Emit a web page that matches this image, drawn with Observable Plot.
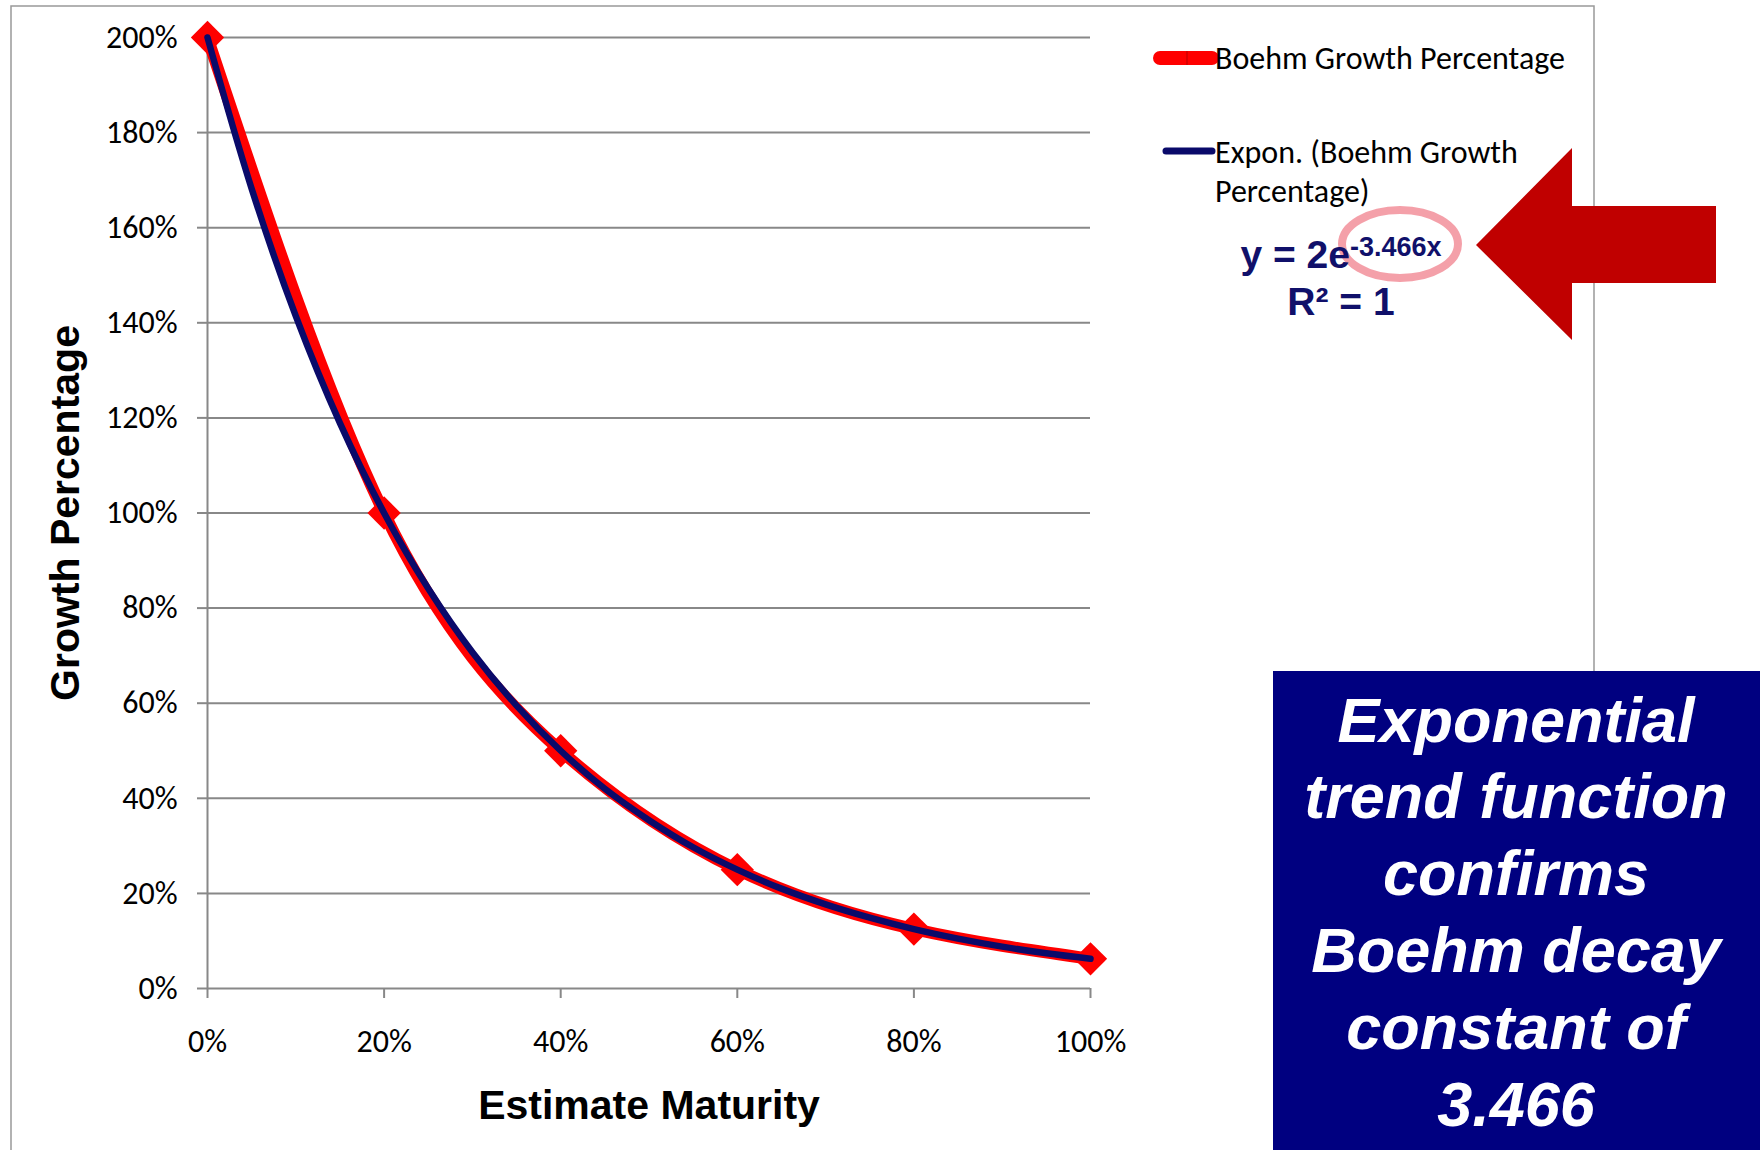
<!DOCTYPE html>
<html>
<head>
<meta charset="utf-8">
<script src="https://cdn.jsdelivr.net/npm/d3@7"></script>
<script src="https://cdn.jsdelivr.net/npm/@observablehq/plot@0.6"></script>
<style>
  html, body { margin: 0; padding: 0; background: white; }
  #chart { width: 1760px; height: 1150px; overflow: hidden; }
</style>
</head>
<body>
<div id="chart"></div>
<script>
// ---- data ----
const maturity = [0, 0.2, 0.4, 0.6, 0.8, 1.0];
const growthPct = [2.0, 1.0, 0.5, 0.25, 0.125, 0.0625];

// exponential trend curve
const trendX = [0, 0.05, 0.1, 0.15, 0.2, 0.25, 0.3, 0.35, 0.4, 0.45, 0.5,
                0.55, 0.6, 0.65, 0.7, 0.75, 0.8, 0.85, 0.9, 0.95, 1.0];
const trendY = [2.0, 1.682, 1.414, 1.189, 1.0, 0.841, 0.707, 0.595, 0.5, 0.42, 0.354,
                0.297, 0.25, 0.21, 0.177, 0.149, 0.125, 0.105, 0.088, 0.074, 0.0625];

const yTicks = [0, 0.2, 0.4, 0.6, 0.8, 1.0, 1.2, 1.4, 1.6, 1.8, 2.0];
const xTicks = [0, 0.2, 0.4, 0.6, 0.8, 1.0];

const legendLabels = ["Boehm Growth Percentage", "Expon. (Boehm Growth", "Percentage)"];
const equationMain = "y = 2e";
const equationSup = "-3.466x";
const equationR2 = "R² = 1";
const boxLines = ["Exponential", "trend function", "confirms", "Boehm decay", "constant of", "3.466"];
const xTitle = "Estimate Maturity";
const yTitle = "Growth Percentage";

const points = maturity.map((x, i) => ({x, y: growthPct[i]}));
const trend = trendX.map((x, i) => ({x, y: trendY[i]}));

const gridColor = "#888888";
const red = "#FF0000";
const navy = "#0A0A6A";
const pct = d3.format(".0%");

const svg = Plot.plot({
  width: 1760,
  height: 1150,
  marginLeft: 207,
  marginRight: 670,
  marginTop: 37,
  marginBottom: 162,
  x: {domain: [0, 1]},
  y: {domain: [0, 2]},
  style: {fontFamily: "Carlito, Lato, sans-serif", color: "black", background: "white", overflow: "visible"},
  marks: [
    Plot.ruleY(yTicks, {stroke: gridColor, strokeWidth: 2}),
    Plot.ruleX([0], {stroke: gridColor, strokeWidth: 2}),
    Plot.axisY({ticks: yTicks, tickSize: 10, tickFormat: () => "", stroke: gridColor, strokeWidth: 2, label: null}),
    Plot.axisX({ticks: xTicks, tickSize: 10, tickFormat: () => "", stroke: gridColor, strokeWidth: 2, label: null}),
    Plot.axisY({ticks: yTicks, tickSize: 0, tickPadding: 30, tickFormat: pct, fill: "black", fontSize: 32, label: null}),
    Plot.axisX({ticks: xTicks, tickSize: 0, tickPadding: 41, tickFormat: pct, fill: "black", fontSize: 32, label: null}),
    Plot.line(points, {x: "x", y: "y", stroke: red, strokeWidth: 12, curve: "natural"}),
    Plot.dot(points, {x: "x", y: "y", symbol: "diamond2", r: 15, fill: red}),
    Plot.line(trend, {x: "x", y: "y", stroke: navy, strokeWidth: 6.5, curve: "catmull-rom"}),
    Plot.text([yTitle], {frameAnchor: "left", dx: -142, rotate: -90, textAnchor: "middle", fontSize: 41, fontWeight: "bold",
      fontFamily: "Liberation Sans, Arial, sans-serif", fill: "black"}),
    Plot.text([xTitle], {frameAnchor: "bottom", dy: 130, textAnchor: "middle", fontSize: 41, fontWeight: "bold",
      fontFamily: "Liberation Sans, Arial, sans-serif", fill: "black"})
  ]
});

const s = d3.select(svg);

// chart border (behind everything)
s.insert("rect", ":first-child")
  .attr("x", 11).attr("y", 6).attr("width", 1583).attr("height", 1300)
  .attr("fill", "none").attr("stroke", "#999999").attr("stroke-width", 1.5);
s.insert("rect", ":first-child")
  .attr("x", 0).attr("y", 0).attr("width", 1760).attr("height", 1150).attr("fill", "white");

// legend
const lg = s.append("g").attr("font-family", "Carlito, Lato, sans-serif").attr("font-size", 32)
  .attr("fill", "black").attr("text-anchor", "start");
lg.append("line").attr("x1", 1160).attr("x2", 1212).attr("y1", 58).attr("y2", 58)
  .attr("stroke", red).attr("stroke-width", 14).attr("stroke-linecap", "round");
lg.append("line").attr("x1", 1187).attr("x2", 1187).attr("y1", 51).attr("y2", 65)
  .attr("stroke", "#d00000").attr("stroke-width", 1.5);
lg.append("text").attr("x", 1215).attr("y", 69).text(legendLabels[0]);
lg.append("line").attr("x1", 1166).attr("x2", 1212).attr("y1", 151).attr("y2", 151)
  .attr("stroke", navy).attr("stroke-width", 7).attr("stroke-linecap", "round");
lg.append("text").attr("x", 1215).attr("y", 163).text(legendLabels[1]);
lg.append("text").attr("x", 1215).attr("y", 202).text(legendLabels[2]);

// highlight ellipse
s.append("ellipse").attr("cx", 1400).attr("cy", 244).attr("rx", 58).attr("ry", 34)
  .attr("fill", "none").attr("stroke", "#F0808C").attr("stroke-opacity", 0.75).attr("stroke-width", 8);

// equation
const eq = s.append("g").attr("font-family", "Liberation Sans, Arial, sans-serif")
  .attr("font-weight", "bold").attr("fill", "#10106A").attr("text-anchor", "middle");
const t1 = eq.append("text").attr("x", 1341).attr("y", 268).attr("font-size", 39);
t1.append("tspan").text(equationMain);
t1.append("tspan").attr("dy", -12).attr("font-size", 27).text(equationSup);
eq.append("text").attr("x", 1341).attr("y", 315).attr("font-size", 39).text(equationR2);

// arrow
s.append("path")
  .attr("d", "M1476,245 L1572,148 L1572,206 L1716,206 L1716,283 L1572,283 L1572,340 Z")
  .attr("fill", "#C00000");

// note box
s.append("rect").attr("x", 1273).attr("y", 671).attr("width", 487).attr("height", 479).attr("fill", "#000080");
const bt = s.append("g").attr("font-family", "Liberation Sans, Arial, sans-serif")
  .attr("font-weight", "bold").attr("font-style", "italic").attr("font-size", 63)
  .attr("fill", "white").attr("text-anchor", "middle");
const baselines = [742, 818, 895, 972, 1049, 1126];
boxLines.forEach((line, i) => bt.append("text").attr("x", 1516).attr("y", baselines[i]).text(line));

document.getElementById("chart").appendChild(svg);
</script>
</body>
</html>
